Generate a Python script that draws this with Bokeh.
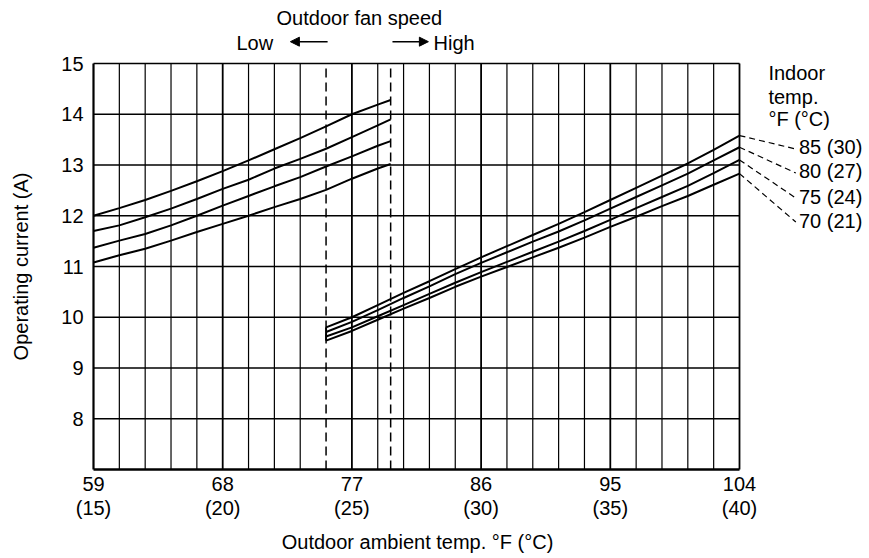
import math
from bokeh.plotting import figure
from bokeh.models import Range1d, Arrow, NormalHead
from bokeh.core.properties import value
from bokeh.embed import file_html
from bokeh.resources import INLINE

# ---------------- data (x in degC, y in A) ----------------
indoor_labels = ["85 (30)", "80 (27)", "75 (24)", "70 (21)"]

low_x = [15, 16, 17, 18, 19, 20, 21, 22, 23, 24, 25, 26, 26.5]
low_85 = [12.00, 12.15, 12.31, 12.49, 12.68, 12.88, 13.09, 13.31, 13.53, 13.76, 14.00, 14.19, 14.28]
low_80 = [11.70, 11.81, 11.97, 12.14, 12.33, 12.53, 12.71, 12.93, 13.12, 13.32, 13.55, 13.78, 13.90]
low_75 = [11.37, 11.51, 11.64, 11.81, 12.00, 12.20, 12.39, 12.58, 12.76, 12.97, 13.17, 13.38, 13.47]
low_70 = [11.08, 11.22, 11.35, 11.51, 11.68, 11.84, 12.00, 12.17, 12.33, 12.51, 12.73, 12.93, 13.02]

high_x = [24, 25, 26, 27, 28, 29, 30, 31, 32, 33, 34, 35, 36, 37, 38, 39, 40]
high_85 = [9.80, 10.00, 10.24, 10.48, 10.71, 10.95, 11.18, 11.40, 11.62, 11.84, 12.07, 12.31, 12.55, 12.79, 13.03, 13.30, 13.58]
high_80 = [9.71, 9.91, 10.14, 10.38, 10.61, 10.85, 11.07, 11.28, 11.49, 11.69, 11.91, 12.14, 12.37, 12.60, 12.83, 13.09, 13.35]
high_75 = [9.62, 9.80, 10.02, 10.24, 10.46, 10.68, 10.89, 11.09, 11.29, 11.49, 11.70, 11.92, 12.15, 12.37, 12.59, 12.84, 13.10]
high_70 = [9.54, 9.73, 9.95, 10.17, 10.38, 10.60, 10.80, 10.99, 11.18, 11.37, 11.57, 11.78, 11.98, 12.19, 12.39, 12.61, 12.83]

x_ticks_c = [15, 20, 25, 30, 35, 40]
x_ticks_f = [59, 68, 77, 86, 95, 104]
y_ticks = [8, 9, 10, 11, 12, 13, 14, 15]
fan_switch_c = [24, 26.5]

X0, X1, Y0, Y1 = 15, 40, 7, 15

FONT = "Liberation Sans"
FS = "20px"

# frame covers whole canvas; plot box placed by range padding
W, H = 865, 554
pad_l, pad_t = 93, 63
pad_r, pad_b = W - 739, H - 469
pxc = (W - pad_l - pad_r) / (X1 - X0)
pxa = (H - pad_t - pad_b) / (Y1 - Y0)
p = figure(width=W, height=H,
           x_range=Range1d(X0 - pad_l / pxc, X1 + pad_r / pxc),
           y_range=Range1d(Y0 - pad_b / pxa, Y1 + pad_t / pxa),
           output_backend="svg", toolbar_location=None,
           x_axis_location=None, y_axis_location=None,
           min_border=0)
p.grid.visible = False
p.outline_line_color = None
p.background_fill_color = "white"
p.border_fill_color = "white"

# grid lines
minor_x = [v for v in range(X0 + 1, X1) if v % 5 != 0 and v not in fan_switch_c]
major_x = [v for v in x_ticks_c if X0 < v < X1]
p.segment(x0=minor_x, x1=minor_x, y0=Y0, y1=Y1, line_color="black", line_width=1.2)
p.segment(x0=major_x, x1=major_x, y0=Y0, y1=Y1, line_color="black", line_width=1.8)
hy = list(range(Y0 + 1, Y1))
p.segment(x0=X0, x1=X1, y0=hy, y1=hy, line_color="black", line_width=1.6)

# border
p.segment(x0=[X0], x1=[X1], y0=[Y1], y1=[Y1], line_color="black", line_width=1.6)
p.segment(x0=[X0], x1=[X1], y0=[Y0], y1=[Y0], line_color="black", line_width=2.6)
p.segment(x0=[X0], x1=[X0], y0=[Y0], y1=[Y1], line_color="black", line_width=2.2)
p.segment(x0=[X1], x1=[X1], y0=[Y0], y1=[Y1], line_color="black", line_width=1.8)

# fan switch dashed lines
p.segment(x0=fan_switch_c, x1=fan_switch_c, y0=Y0, y1=Y1, line_color="black",
          line_width=1.5, line_dash="9 5")

# curves
for ys in (low_85, low_80, low_75, low_70):
    p.line(low_x, ys, line_color="black", line_width=2)
for ys in (high_85, high_80, high_75, high_70):
    p.line(high_x, ys, line_color="black", line_width=2)
p.line([high_x[0], high_x[0]], [high_70[0], high_85[0]], line_color="black", line_width=2)

def txt(x, y, t, align="left", baseline="middle", angle=0, x_offset=0, y_offset=0):
    p.text(x=x, y=y, text=t, text_font=value(FONT), text_font_size=value(FS),
           text_align=align, text_baseline=baseline, text_color="black",
           angle=angle, x_offset=x_offset, y_offset=y_offset)

# tick labels
txt(x_ticks_c, [6.72] * len(x_ticks_c), [str(f) for f in x_ticks_f], align="center")
txt(x_ticks_c, [6.24] * len(x_ticks_c), [f"({c})" for c in x_ticks_c], align="center")
txt([X0] * len(y_ticks), y_ticks, [str(v) for v in y_ticks], align="right", x_offset=-10)

# axis titles
txt([12.21], [11.0], ["Operating current (A)"], align="center", angle=math.pi / 2)
txt([27.54], [5.57], ["Outdoor ambient temp. °F (°C)"], align="center")

# header
txt([25.29], [15.90], ["Outdoor fan speed"], align="center")
txt([21.95], [15.41], ["Low"], align="right")
txt([28.16], [15.41], ["High"], align="left")
p.add_layout(Arrow(end=NormalHead(size=9, fill_color="black", line_color="black"),
                   x_start=24.06, y_start=15.43, x_end=22.62, y_end=15.43,
                   line_color="black", line_width=1.5))
p.add_layout(Arrow(end=NormalHead(size=9, fill_color="black", line_color="black"),
                   x_start=26.57, y_start=15.43, x_end=27.96, y_end=15.43,
                   line_color="black", line_width=1.5))

# indoor temp legend
txt([41.12] * 3, [14.82, 14.34, 13.91], ["Indoor", "temp.", "°F (°C)"])
label_x = 42.3
label_y = [13.345, 12.872, 12.379, 11.906]
ends = [high_85[-1], high_80[-1], high_75[-1], high_70[-1]]
txt([label_x] * 4, label_y, indoor_labels)
p.segment(x0=[X1] * 4, y0=ends, x1=[label_x - 0.12] * 4, y1=[v - 0.03 for v in label_y],
          line_color="black", line_width=1.2, line_dash="6 4")

open("out.html", "w").write(file_html(p, INLINE))
